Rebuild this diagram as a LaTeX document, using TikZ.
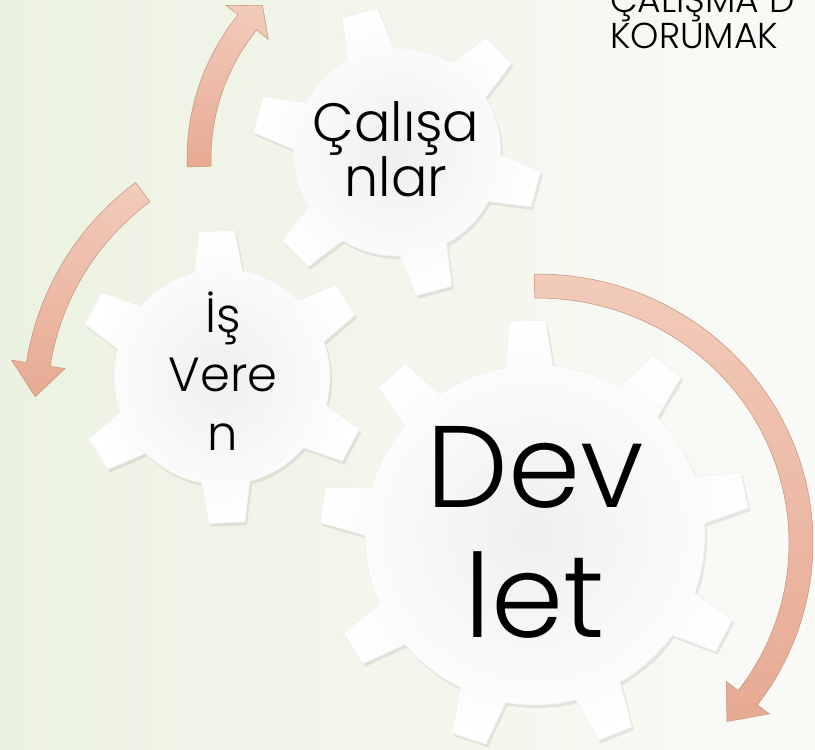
\documentclass[tikz,border=0pt]{standalone}
\usepackage{fontspec}
\setmainfont{Poppins Light}
\definecolor{bgleft}{RGB}{236,242,225}
\definecolor{bgright}{RGB}{250,250,247}
\definecolor{gearinner}{RGB}{239,239,239}
\definecolor{arrowtop}{RGB}{242,203,186}
\definecolor{arrowbottom}{RGB}{231,170,147}

\begin{document}
\begin{tikzpicture}[x=1pt,y=1pt,
	gear/.style={preaction={fill=black,opacity=0.08,transform canvas={xshift=2pt,yshift=-3pt}},
		inner color=gearinner,outer color=white,draw=black!6,line width=0.6pt},
	bent arrow/.style={top color=arrowtop,bottom color=arrowbottom,draw=arrowbottom!85!black,line width=0.5pt},
	gear text/.style={align=center,inner sep=0pt}]
	\shade[left color=bgleft,right color=bgright] (0,0) rectangle (815,750);
	\useasboundingbox (0,0) rectangle (815,750);
	\foreach \ax/\ay/\rx/\ry/\aone/\atwo/\athree in
		{416/591/217/217/182/141/135, 301/344/266/266/126.5/171/178, 537/207/264/257/90.5/-37/-44}
		\path[bent arrow,shift={(\ax,\ay)}] (\aone:\rx+12 and \ry+12)
			arc[start angle=\aone,end angle=\atwo,x radius=\rx+12,y radius=\ry+12]
			-- (\atwo:\rx+27 and \ry+27) -- (\athree:\rx+0 and \ry) -- (\atwo:\rx-27 and \ry-27)
			-- (\atwo:\rx-12 and \ry-12)
			arc[start angle=\atwo,end angle=\aone,x radius=\rx-12,y radius=\ry-12] -- cycle;
	\foreach \gx/\gy/\rin/\rout/\nt/\astart/\hbase/\htip in
		{397/598/104/145/6/105/13.5/7.3, 222/373/108/147/6/92/13/7, 535/215/170/215/9/92/8.1/4.8}
		\path[gear,shift={(\gx,\gy)}] (\astart-\hbase:\rin)
			\foreach \k [evaluate=\k as \a using {\astart+(\k-1)*360/\nt}] in {1,...,\nt} {
				-- (\a-\htip:\rout) -- (\a+\htip:\rout) -- (\a+\hbase:\rin)
				arc[start angle=\a+\hbase,end angle=\a+360/\nt-\hbase,radius=\rin]
			} -- cycle;
	\node[gear text,font=\fontsize{54}{51}\selectfont] (calisanlar) at (396,601) {Çalışa\\nlar};
	\node[gear text,font=\fontsize{48}{59}\selectfont] (isveren) at (223,379) {İş\\Vere\\n};
	\node[gear text,font=\fontsize{116}{130}\selectfont] (devlet) at (535,218) {Dev\\let};
	\node[align=left,anchor=west,inner sep=0pt,font=\fontsize{36}{36}\selectfont] (korumak)
		at (610,732.5) {ÇALIŞMA D\\KORUMAK};
\end{tikzpicture}
\end{document}
